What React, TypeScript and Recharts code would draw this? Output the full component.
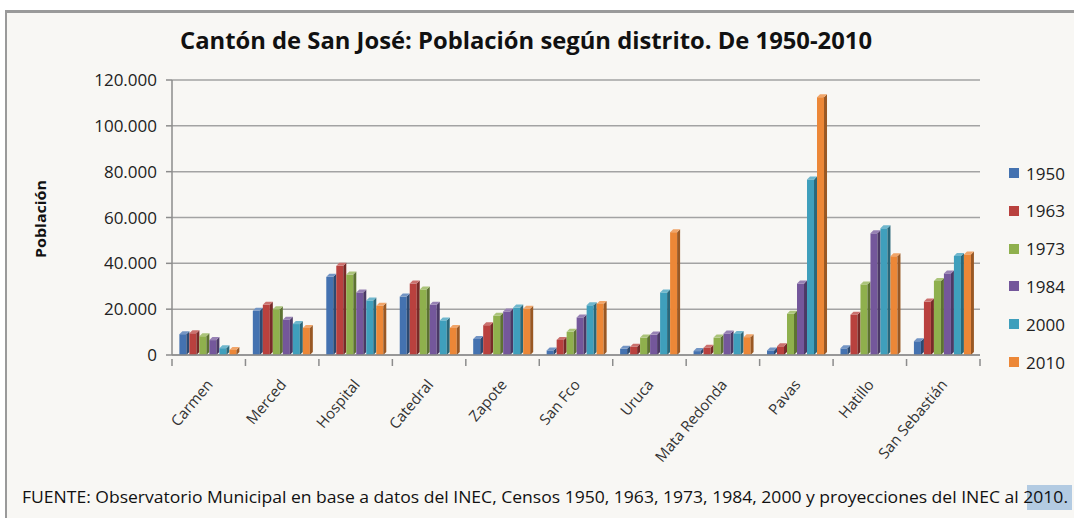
import React from "react";
import { Bar, BarChart, CartesianGrid, XAxis, YAxis } from "recharts";

const distritos = ["Carmen", "Merced", "Hospital", "Catedral", "Zapote", "San Fco", "Uruca", "Mata Redonda", "Pavas", "Hatillo", "San Sebastián"];
const anios = ["1950", "1963", "1973", "1984", "2000", "2010"];
const p1950 = [9100, 19300, 34100, 25500, 7000, 2000, 2700, 1700, 2000, 2900, 6000];
const p1963 = [9500, 21900, 38900, 31200, 13000, 6600, 3600, 3200, 3800, 17600, 23300];
const p1973 = [8200, 20000, 35100, 28600, 17100, 10100, 7600, 7600, 18000, 30800, 32300];
const p1984 = [6500, 15400, 27300, 21900, 19000, 16400, 8900, 9400, 31200, 53100, 35600];
const p2000 = [3000, 13500, 23800, 15100, 20700, 21700, 27300, 9200, 76600, 55300, 43200];
const p2010 = [2200, 11800, 21500, 11800, 20200, 22300, 53600, 7800, 112500, 43100, 43900];
const yTicks = [0, 20000, 40000, 60000, 80000, 100000, 120000];

const colores = ["#4472b0", "#b9413e", "#8fb04d", "#74579b", "#3f9fbc", "#ec8737"];

const series = [p1950, p1963, p1973, p1984, p2000, p2010];
const data = distritos.map((d, i) => {
  const row: any = { distrito: d };
  anios.forEach((a, j) => (row[a] = series[j][i]));
  return row;
});

// mezcla un color hex con negro (f<0) o blanco (f>0)
const shade = (hex: string, f: number) => {
  const n = parseInt(hex.slice(1), 16);
  let r = n >> 16, g = (n >> 8) & 255, b = n & 255;
  const t = f < 0 ? 0 : 255;
  const p = Math.abs(f);
  r = Math.round(r + (t - r) * p);
  g = Math.round(g + (t - g) * p);
  b = Math.round(b + (t - b) * p);
  return `rgb(${r},${g},${b})`;
};

const Bar3D = (props: any) => {
  const { x, y, width, height, fill } = props;
  if (!height || height <= 0) return null;
  const d = 3;
  const fx = x + 1.5;
  const w = width - d;
  return (
    <g>
      <rect x={fx} y={y} width={w} height={height} fill={fill} />
      <polygon
        points={`${fx + w},${y} ${fx + w + d},${y - d} ${fx + w + d},${y + height - d} ${fx + w},${y + height}`}
        fill={shade(fill, -0.35)}
      />
      <polygon
        points={`${fx},${y} ${fx + d},${y - d} ${fx + w + d},${y - d} ${fx + w},${y}`}
        fill={shade(fill, 0.25)}
      />
    </g>
  );
};

const fmt = (v: number) => (v === 0 ? "0" : String(v).replace(/\B(?=(\d{3})+(?!\d))/g, "."));

const TickX = (props: any) => {
  const { x, y, payload, index, visibleTicksCount } = props;
  const off = payload.offset || 0;
  return (
    <g>
      <line x1={x - off} y1={y - 2} x2={x - off} y2={y + 5} stroke="#8c8c8c" strokeWidth={1.5} />
      {index === visibleTicksCount - 1 && (
        <line x1={x + off} y1={y - 2} x2={x + off} y2={y + 5} stroke="#8c8c8c" strokeWidth={1.5} />
      )}
      <text
        transform={`translate(${x + 5},${y + 24}) rotate(-50)`}
        textAnchor="end"
        fontFamily="Open Sans"
        fontSize={15}
        fill="#333"
      >
        {payload.value}
      </text>
    </g>
  );
};

const Leyenda = () => (
  <div style={{ position: "absolute", left: 1009, top: 163 }}>
    {anios.map((a, i) => (
      <div key={a} style={{ position: "absolute", left: 0, top: i * 37.8, height: 20, display: "flex", alignItems: "center", whiteSpace: "nowrap" }}>
        <span style={{ width: 10, height: 10, background: colores[i], display: "inline-block" }} />
        <span style={{ marginLeft: 7, fontFamily: "Open Sans", fontSize: 17, color: "#222" }}>{a}</span>
      </div>
    ))}
  </div>
);

export default function App() {
  return (
    <div style={{ position: "absolute", left: 0, top: 0, width: 1074, height: 518, overflow: "hidden", background: "#fff" }}>
      <div style={{ position: "absolute", left: 5, top: 10, width: 1080, height: 520, borderLeft: "2px solid #9a9a9a", borderTop: "3px solid #9a9a9a", background: "#f8f7f4" }} />
      <div style={{ position: "absolute", left: 0, top: 0 }}>
        <BarChart
          width={1074}
          height={518}
          data={data}
          margin={{ top: 80, right: 94, bottom: 63, left: 0 }}
          barCategoryGap="8%"
          barGap={0}
        >
          <CartesianGrid vertical={false} stroke="#a3a3a3" strokeWidth={1.5} />
          <XAxis
            dataKey="distrito"
            height={100}
            interval={0}
            axisLine={{ stroke: "#8c8c8c", strokeWidth: 1.5 }}
            tickLine={false}
            tickMargin={0}
            tick={<TickX />}
          />
          <YAxis
            width={172}
            domain={[0, 120000]}
            ticks={yTicks}
            tickFormatter={fmt}
            axisLine={{ stroke: "#8c8c8c", strokeWidth: 1.5 }}
            tickLine={{ stroke: "#8c8c8c", strokeWidth: 1.5 }}
            tickSize={6}
            tickMargin={9}
            tick={{ fontFamily: "Open Sans", fontSize: 17, fill: "#222" }}
          />
          {anios.map((a, i) => (
            <Bar key={a} dataKey={a} fill={colores[i]} shape={<Bar3D />} isAnimationActive={false} />
          ))}
        </BarChart>
      </div>
      <Leyenda />
      <svg width={1074} height={518} style={{ position: "absolute", left: 0, top: 0, pointerEvents: "none" }}>
        <text x={180} y={49} fontFamily="Open Sans" fontWeight="bold" fontSize={23} fill="#111" textLength={692} lengthAdjust="spacingAndGlyphs">
          Cantón de San José:  Población según distrito. De 1950-2010
        </text>
        <text transform="translate(46,258) rotate(-90)" fontFamily="Open Sans" fontWeight="bold" fontSize={14} fill="#111" textLength={78} lengthAdjust="spacingAndGlyphs">
          Población
        </text>
        <rect x={1027} y={485} width={45} height={25} fill="#b3cbe2" />
        <text x={22} y={503} fontFamily="Open Sans" fontSize={16} fill="#111" textLength={1046} lengthAdjust="spacingAndGlyphs">
          FUENTE:  Observatorio Municipal en base a datos del INEC,  Censos 1950, 1963, 1973, 1984, 2000 y proyecciones del INEC al 2010.
        </text>
      </svg>
    </div>
  );
}
